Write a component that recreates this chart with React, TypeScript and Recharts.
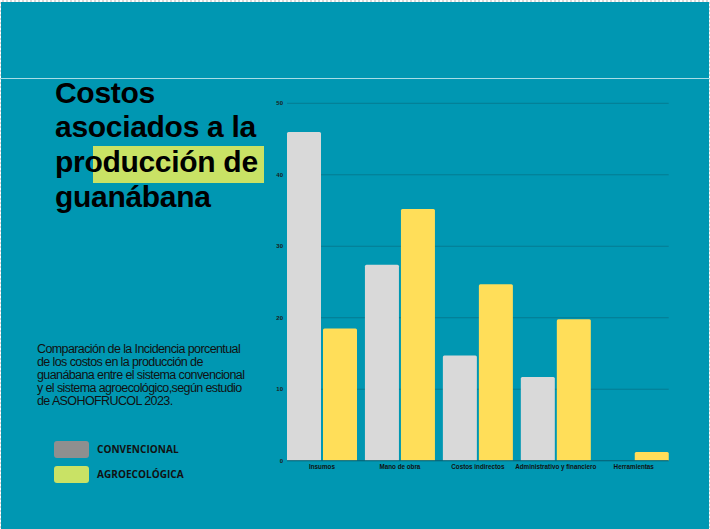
import { BarChart, Bar, XAxis, YAxis, CartesianGrid } from "recharts";

// categorías y porcentajes
const categories = [
  "Insumos",
  "Mano de obra",
  "Costos indirectos",
  "Administrativo y financiero",
  "Herramientas",
];
const convencional = [46, 27.4, 14.7, 11.7, 0];
const agroecologica = [18.5, 35.2, 24.7, 19.8, 1.2];
const yTicks = [0, 10, 20, 30, 40, 50];

const TEAL = "#0097B2";
const GRID = "#047C92";
const CHECKER =
  "repeating-conic-gradient(#d6d6d6 0% 25%, #ffffff 0% 50%) 0 0 / 4px 4px";

const chartData = categories.map((name, i) => ({
  name,
  convencional: convencional[i],
  agroecologica: agroecologica[i],
}));

export default function App() {
  return (
    <div
      style={{
        position: "absolute",
        left: 0,
        top: 0,
        width: 710,
        height: 529,
        background: TEAL,
        overflow: "hidden",
      }}
    >
      {/* borde transparente (cuadriculado) */}
      <div style={{ position: "absolute", left: 0, top: 0, width: 710, height: 2, background: CHECKER }} />
      <div style={{ position: "absolute", left: 0, top: 0, width: 1, height: 529, background: CHECKER }} />
      <div style={{ position: "absolute", right: 0, top: 0, width: 1, height: 529, background: CHECKER }} />
      {/* línea superior */}
      <div
        style={{
          position: "absolute",
          left: 0,
          top: 78,
          width: 710,
          height: 1,
          background: "#a9dde6",
        }}
      />
      {/* resaltado del título */}
      <div
        style={{
          position: "absolute",
          left: 93,
          top: 146,
          width: 171,
          height: 37,
          background: "#C9E265",
        }}
      />
      <div
        style={{
          position: "absolute",
          left: 55,
          top: 75.5,
          width: 230,
          fontFamily: "'Liberation Sans', Arial, sans-serif",
          fontWeight: 700,
          fontSize: 30,
          lineHeight: "34.7px",
          letterSpacing: -0.3,
          color: "#000",
        }}
      >
        Costos
        <br />
        asociados a la
        <br />
        producción de
        <br />
        guanábana
      </div>
      <div
        style={{
          position: "absolute",
          left: 37,
          top: 343.4,
          width: 240,
          fontFamily: "'Liberation Sans', Arial, sans-serif",
          fontSize: 12.5,
          lineHeight: "13px",
          letterSpacing: -0.6,
          color: "#111",
        }}
      >
        Comparación de la Incidencia porcentual
        <br />
        de los costos en la producción de
        <br />
        guanábana entre el sistema convencional
        <br />y el sistema agroecológico,según estudio
        <br />
        de ASOHOFRUCOL 2023.
      </div>
      {/* leyenda */}
      {[
        { label: "CONVENCIONAL", color: "#8F8F8F", top: 441 },
        { label: "AGROECOLÓGICA", color: "#C9E265", top: 466 },
      ].map((item) => (
        <div key={item.label}>
          <div
            style={{
              position: "absolute",
              left: 54,
              top: item.top,
              width: 35,
              height: 17,
              borderRadius: 3,
              background: item.color,
            }}
          />
          <div
            style={{
              position: "absolute",
              left: 97,
              top: item.top,
              height: 17,
              lineHeight: "17px",
              fontFamily: "'Open Sans', sans-serif",
              fontWeight: 700,
              fontSize: 10,
              letterSpacing: 0.05,
              color: "#111",
              whiteSpace: "nowrap",
            }}
          >
            {item.label}
          </div>
        </div>
      ))}
      <div style={{ position: "absolute", left: 260, top: 90 }}>
        <BarChart
          width={430}
          height={400}
          data={chartData}
          margin={{ top: 13.3, right: 21.3, bottom: 9.3, left: 0 }}
          barCategoryGap={4}
          barGap={2}
        >
          <CartesianGrid vertical={false} stroke={GRID} strokeWidth={1} />
          <XAxis
            dataKey="name"
            height={20}
            padding={{ left: -4, right: -4 }}
            tickSize={0}
            tickMargin={4}
            axisLine={{ stroke: "#05667A", strokeWidth: 1 }}
            interval={0}
            tick={{
              fontSize: 6.3,
              fontWeight: 700,
              fill: "#111",
              fontFamily: "'Liberation Sans', Arial, sans-serif",
            }}
          />
          <YAxis
            width={27}
            domain={[0, 50]}
            ticks={yTicks}
            axisLine={false}
            tickLine={false}
            tickSize={0}
            tickMargin={4}
            tick={{
              fontSize: 6,
              fontWeight: 700,
              fill: "#1a1a1a",
              fontFamily: "'Liberation Sans', Arial, sans-serif",
            }}
          />
          <Bar
            dataKey="convencional"
            fill="#D9D9D9"
            radius={[1.5, 1.5, 0, 0]}
            isAnimationActive={false}
          />
          <Bar
            dataKey="agroecologica"
            fill="#FFDE59"
            radius={[1.5, 1.5, 0, 0]}
            isAnimationActive={false}
          />
        </BarChart>
      </div>
    </div>
  );
}
